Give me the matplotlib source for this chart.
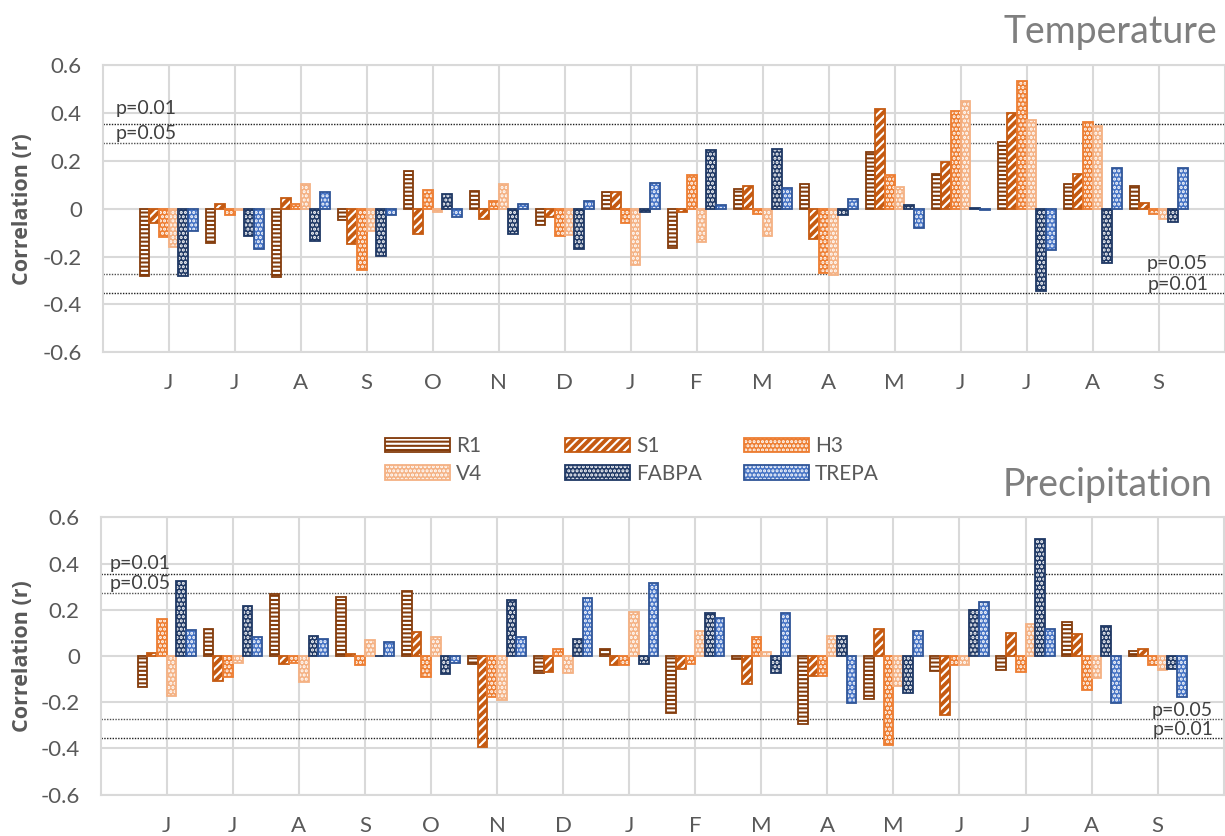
import matplotlib
matplotlib.use("Agg")
import matplotlib.pyplot as plt
import numpy as np
from matplotlib.legend_handler import HandlerTuple
from matplotlib.patches import Patch

plt.rcParams['font.family'] = ['Lato', 'DejaVu Sans']
plt.rcParams['hatch.linewidth'] = 1.5

months = ['J', 'J', 'A', 'S', 'O', 'N', 'D', 'J', 'F', 'M', 'A', 'M', 'J', 'J', 'A', 'S']
series = ['R1', 'S1', 'H3', 'V4', 'FABPA', 'TREPA']

# Temperature correlations
temp_R1 = [-0.283, -0.143, -0.286, -0.046, 0.156, 0.074, -0.070, 0.070, -0.163, 0.084, 0.104, 0.238, 0.146, 0.279, 0.102, 0.095]
temp_S1 = [-0.058, 0.021, 0.045, -0.149, -0.106, -0.042, -0.035, 0.070, -0.012, 0.096, -0.127, 0.418, 0.195, 0.401, 0.146, 0.025]
temp_H3 = [-0.118, -0.028, 0.021, -0.258, 0.079, 0.031, -0.114, -0.058, 0.139, -0.024, -0.270, 0.139, 0.408, 0.533, 0.361, -0.024]
temp_V4 = [-0.160, -0.005, 0.104, -0.092, -0.015, 0.102, -0.111, -0.237, -0.138, -0.114, -0.277, 0.092, 0.448, 0.369, 0.347, -0.042]
temp_FABPA = [-0.281, -0.114, -0.135, -0.198, 0.063, -0.106, -0.170, -0.014, 0.247, 0.251, -0.026, 0.014, 0.003, -0.344, -0.227, -0.057]
temp_TREPA = [-0.095, -0.170, 0.070, -0.028, -0.036, 0.019, 0.033, 0.109, 0.017, 0.086, 0.040, -0.082, -0.007, -0.173, 0.169, 0.169]

# Precipitation correlations
prec_R1 = [-0.136, 0.118, 0.269, 0.254, 0.280, -0.036, -0.072, 0.029, -0.247, -0.012, -0.296, -0.188, -0.065, -0.061, 0.149, 0.023]
prec_S1 = [0.013, -0.107, -0.035, 0.009, 0.104, -0.392, -0.071, -0.038, -0.058, -0.123, -0.087, 0.117, -0.256, 0.098, 0.095, 0.029]
prec_H3 = [0.158, -0.091, -0.032, -0.040, -0.091, -0.178, 0.030, -0.038, -0.033, 0.082, -0.087, -0.383, -0.038, -0.068, -0.146, -0.038]
prec_V4 = [-0.173, -0.030, -0.113, 0.068, 0.081, -0.189, -0.074, 0.191, 0.108, 0.016, 0.087, -0.131, -0.040, 0.137, -0.094, -0.059]
prec_FABPA = [0.324, 0.215, 0.088, 0.002, -0.079, 0.244, 0.075, -0.033, 0.186, -0.075, 0.087, -0.159, 0.198, 0.506, 0.130, -0.058]
prec_TREPA = [0.111, 0.084, 0.075, 0.062, -0.030, 0.082, 0.253, 0.316, 0.165, 0.188, -0.204, 0.110, 0.234, 0.117, -0.204, -0.176]

p05 = 0.273
p01 = 0.354

fills = ['#843C0C', '#C55A11', '#ED7D31', '#F4B183', '#1F3864', '#4472C4']
edges = ['#843C0C', '#C55A11', '#ED7D31', '#F4B183', '#1F3864', '#2F5597']
hatches = ['----', '////', '....', '....', '....', '....']

W, H = 1225, 836
fig = plt.figure(figsize=(W / 100, H / 100), dpi=100)

ax_t = fig.add_axes([102.7 / W, (H - 352.3) / H, 1122 / W, 287.3 / H])
ax_p = fig.add_axes([100.7 / W, (H - 794.7) / H, 1123 / W, 277.4 / H])

GRID = '#D9D9D9'
TXT = '#595959'
PFS = 14


def draw(ax, data, p_left, p_right):
    x = np.arange(1, len(months) + 1)
    w = 0.147
    for i, vals in enumerate(data):
        off = (i - 2.5) * w
        ax.bar(x + off, vals, w, color=fills[i], edgecolor='white',
               hatch=hatches[i], linewidth=0, zorder=3)
        ax.bar(x + off, vals, w, facecolor='none', edgecolor=edges[i],
               linewidth=1.3, zorder=4)
    ax.set_xlim(0, len(months) + 1)
    ax.set_ylim(-0.6, 0.6)
    yt = [-0.6, -0.4, -0.2, 0, 0.2, 0.4, 0.6]
    ax.set_yticks(yt)
    ax.set_yticklabels(['-0.6', '-0.4', '-0.2', '0', '0.2', '0.4', '0.6'])
    ax.set_xticks(x)
    ax.set_xticklabels(months)
    ax.tick_params(length=0, colors=TXT, labelsize=16, pad=15)
    ax.grid(True, color=GRID, lw=1.5, zorder=0)
    ax.set_axisbelow(True)
    for s in ax.spines.values():
        s.set_color(GRID)
        s.set_linewidth(1.5)
    for v, c in [(p01, '#202020'), (p05, '#505050'), (-p05, '#505050'), (-p01, '#202020')]:
        ax.axhline(v, color=c, ls=(0, (1, 1)), lw=1.0, zorder=2)
    ax.text(p_left[0], p_left[1], 'p=0.01', fontsize=PFS, color='#404040', va='center', ha='left', zorder=5)
    ax.text(p_left[0], p_left[2], 'p=0.05', fontsize=PFS, color='#404040', va='center', ha='left', zorder=5)
    ax.text(p_right[0], p_right[1], 'p=0.05', fontsize=PFS, color='#404040', va='center', ha='right', zorder=5)
    ax.text(p_right[0], p_right[2], 'p=0.01', fontsize=PFS, color='#404040', va='center', ha='right', zorder=5)
    ax.set_ylabel('Correlation (r)', fontsize=15.5, fontweight='bold', color=TXT,
                  family=['Open Sans', 'DejaVu Sans'])


draw(ax_t, [temp_R1, temp_S1, temp_H3, temp_V4, temp_FABPA, temp_TREPA],
     (0.19, 0.42, 0.314), (16.75, -0.231, -0.317))
draw(ax_p, [prec_R1, prec_S1, prec_H3, prec_V4, prec_FABPA, prec_TREPA],
     (0.14, 0.40, 0.313), (16.84, -0.236, -0.32))

ax_t.yaxis.set_label_coords((33 - 102.7) / 1122, 0.5)
ax_p.yaxis.set_label_coords((33 - 100.7) / 1123, 0.5)

fig.text(1217 / W, (H - 43) / H, 'Temperature', fontsize=27, color='#7F7F7F',
         ha='right', va='baseline')
fig.text(1212 / W, (H - 496) / H, 'Precipitation', fontsize=27, color='#7F7F7F',
         ha='right', va='baseline')

# Legend in three columns
handles = []
for i in range(6):
    hp = Patch(facecolor=fills[i], edgecolor='white', hatch=hatches[i], linewidth=0)
    op = Patch(facecolor='none', edgecolor=edges[i], linewidth=1.3)
    handles.append((hp, op))

LFS = 15
lpx = LFS * 100 / 72
col_x = [385, 565, 744]
for c in range(3):
    idx = [c, c + 3]
    leg = fig.legend([handles[k] for k in idx], [series[k] for k in idx],
                     handler_map={tuple: HandlerTuple(ndivide=1, pad=0)},
                     loc='center left', bbox_to_anchor=(col_x[c] / W, (H - 460) / H),
                     frameon=False, fontsize=LFS, handlelength=65 / lpx, handleheight=15 / lpx,
                     handletextpad=6 / lpx, labelspacing=0.35, borderpad=0, borderaxespad=0)
    for t in leg.get_texts():
        t.set_color(TXT)

fig.savefig('out.png', dpi=100)
